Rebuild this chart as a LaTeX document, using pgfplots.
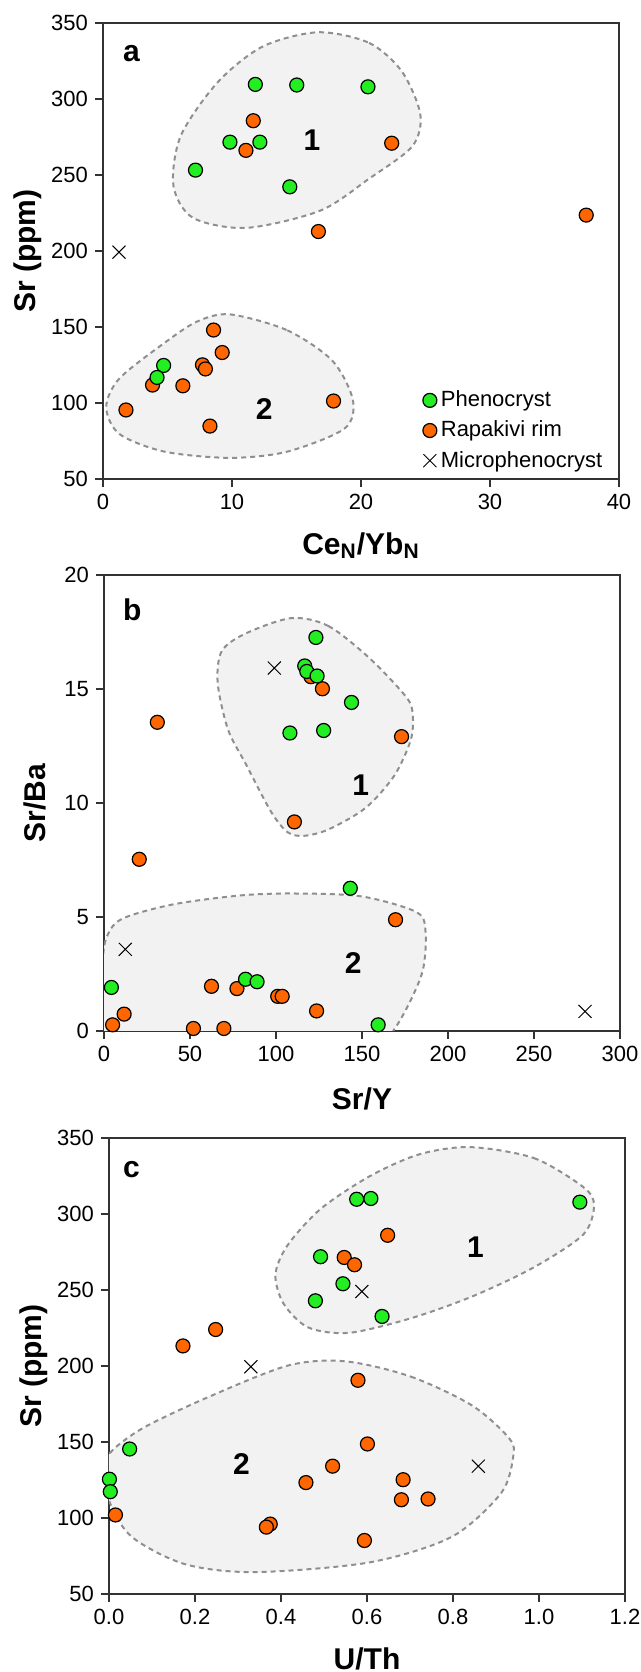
\documentclass[border=0pt]{standalone}
\usepackage{fontspec}
\setmainfont{Liberation Sans}
\usepackage{pgfplots}
\pgfplotsset{compat=1.18}
\definecolor{phenGreen}{HTML}{22EE22}
\definecolor{rimOrange}{HTML}{FF6600}
\definecolor{hullFill}{HTML}{F2F2F2}
\definecolor{hullEdge}{HTML}{8F8F8F}
\definecolor{frameGray}{HTML}{333333}
\pgfplotsset{
  panel/.style={
    scale only axis, width=258pt, height=228pt, anchor=south west,
    axis line style={frameGray, line width=0.9pt},
    tick style={frameGray, line width=0.9pt},
    tick align=outside, xtick pos=left, ytick pos=left,
    major tick length=4pt,
    ticklabel style={font=\fontsize{11}{13}\selectfont},
    /pgf/number format/assume math mode=true,
    label style={font=\fontsize{15}{17}\selectfont\bfseries},
    xlabel style={at={(axis description cs:0.5,-0.1645)}, anchor=base},
    ylabel style={at={(axis description cs:-0.145,0.5)}, anchor=center},
  },
  phen/.style={only marks, mark=*, mark size=3.5pt,
    mark options={fill=phenGreen, draw=black, line width=0.6pt}},
  rim/.style={only marks, mark=*, mark size=3.5pt,
    mark options={fill=rimOrange, draw=black, line width=0.6pt}},
  micro/.style={only marks, mark=x, mark size=4.6pt,
    mark options={draw=black, line width=0.5pt}},
  hull/.style={fill=hullFill, draw=hullEdge, line width=1pt,
    dash pattern=on 2.5pt off 2pt, smooth cycle, mark=none, forget plot},
}
\newcommand{\grp}{\fontsize{15}{17}\selectfont\bfseries}
\begin{document}
\begin{tikzpicture}
\useasboundingbox (0,0) rectangle (320.5pt,836pt);

% ---------- a ----------
\begin{axis}[panel, at={(51.5pt,596.35pt)},
  xmin=0, xmax=40, ymin=50, ymax=350,
  xtick={0,10,...,40}, ytick={50,100,...,350},
  xlabel={Ce\textsubscript{N}/Yb\textsubscript{N}}, ylabel={Sr (ppm)},
  legend cell align=left,
  legend image code/.code={\draw[mark repeat=2,mark phase=2,#1] plot coordinates {(-3.5pt,0pt) (0pt,0pt) (3.5pt,0pt)};},
  legend style={draw=none, fill=none, at={(axis cs:24.3,50.5)}, anchor=south west,
    font=\fontsize{11}{13}\selectfont, row sep=1.6pt},
]
\addplot[hull] coordinates {(16.67,344.1) (20.63,337.1) (23.17,318.3) (24.60,290.1) (23.97,269.0) (20.63,247.8) (16.83,226.7) (11.11,215.4) (6.98,222.0) (5.46,243.1) (6.03,276.0) (8.89,311.2) (12.38,334.7)};
\addplot[hull] coordinates {(9.84,158.5) (14.29,148.0) (17.78,128.0) (19.37,102.2) (18.73,83.4) (14.29,68.2) (9.84,64.1) (4.76,68.2) (1.27,79.8) (0.25,97.5) (1.27,116.3) (4.76,139.7) (7.30,153.8)};
\addplot[rim, forget plot] coordinates {(11.65,285.9) (11.08,266.4) (22.38,271.1) (16.70,213.0) (37.46,223.8) (8.57,148.2) (9.24,133.4) (7.71,125.3) (7.94,122.6) (3.84,112.0) (6.19,111.5) (1.78,95.6) (17.87,101.5) (8.29,85.0)};
\addplot[phen, forget plot] coordinates {(11.81,309.8) (15.02,309.4) (20.54,308.2) (9.84,271.8) (12.16,271.8) (7.17,253.4) (14.48,242.4) (4.70,124.9) (4.19,117.0)};
\addplot[micro, forget plot] coordinates {(1.24,199.4)};
\addlegendimage{phen}\addlegendentry{Phenocryst}
\addlegendimage{rim}\addlegendentry{Rapakivi rim}
\addlegendimage{micro}\addlegendentry{Microphenocryst}
\node[font=\grp] at (axis cs:2.2,330) {a};
\node[font=\grp] at (axis cs:16.2,273) {1};
\node[font=\grp] at (axis cs:12.5,96) {2};
\end{axis}

% ---------- b ----------
\begin{axis}[panel, at={(52pt,320.5pt)},
  xmin=0, xmax=300, ymin=0, ymax=20,
  xtick={0,50,...,300}, ytick={0,5,...,20},
  xlabel={Sr/Y}, ylabel={Sr/Ba},
  xlabel style={at={(axis description cs:0.5,-0.173)}},
  ylabel style={at={(axis description cs:-0.134,0.5)}},
]
\addplot[hull] coordinates {(109.1,18.11) (130.5,17.76) (154.4,16.35) (175.9,14.63) (179.5,13.85) (178.3,12.75) (168.7,11.19) (152.0,9.78) (130.5,8.84) (116.2,8.56) (106.7,8.72) (97.1,9.62) (82.8,11.66) (72.1,13.22) (66.1,15.26) (68.5,16.67) (82.8,17.45)};
\addplot[hull] coordinates {(-1,0.8) (-1,2.6) (1,4.0) (10,4.9) (40,5.55) (80,5.95) (112,6.03) (150,5.9) (182,5.2) (187,4.3) (185.5,2.7) (178,1.3) (168.5,0.05) (160,-0.4) (100,-0.4) (20,-0.4) (0,-0.3)};
\addplot[rim, forget plot] coordinates {(120.3,15.54) (127.0,15.01) (173.0,12.91) (110.7,9.17) (31.0,13.54) (20.5,7.53) (169.5,4.88) (62.5,1.96) (77.3,1.86) (101.0,1.52) (103.6,1.52) (123.6,0.88) (11.7,0.74) (5.0,0.27) (52.0,0.11) (69.7,0.11)};
\addplot[phen, forget plot] coordinates {(123.2,17.26) (116.7,16.01) (117.9,15.77) (123.9,15.57) (143.9,14.41) (108.1,13.07) (127.7,13.18) (143.2,6.26) (82.3,2.27) (89.0,2.16) (4.3,1.91) (159.4,0.27)};
\addplot[micro, forget plot] coordinates {(99.0,15.92) (12.4,3.58) (279.7,0.86)};
\node[font=\grp] at (axis cs:16.5,18.47) {b};
\node[font=\grp] at (axis cs:149.2,10.8) {1};
\node[font=\grp] at (axis cs:144.9,3.0) {2};
\end{axis}

% ---------- c ----------
\begin{axis}[panel, at={(54.5pt,39pt)},
  xmin=0, xmax=1.2, ymin=50, ymax=350,
  xtick={0,0.2,0.4,0.6,0.8,1.0,1.2}, ytick={50,100,...,350},
  xticklabel style={/pgf/number format/.cd, fixed, fixed zerofill, precision=1},
  xlabel={U/Th}, ylabel={Sr (ppm)},
]
\addplot[hull] coordinates {(0.840,344.0) (0.988,336.8) (1.103,317.7) (1.128,305.7) (1.103,286.5) (0.988,264.9) (0.845,245.8) (0.702,231.4) (0.558,221.8) (0.463,225.4) (0.406,241.0) (0.387,260.1) (0.415,279.3) (0.492,303.3) (0.606,324.8) (0.721,339.2)};
\addplot[hull] coordinates {(0.549,203.1) (0.702,193.0) (0.845,173.9) (0.931,152.3) (0.940,140.3) (0.912,116.4) (0.797,87.6) (0.606,70.8) (0.339,64.4) (0.177,69.6) (0.053,87.6) (0.0,111.6) (-0.007,135.5) (0.010,145.1) (0.081,159.5) (0.224,178.7) (0.415,200.2)};
\addplot[rim, forget plot] coordinates {(0.648,286.0) (0.547,271.4) (0.571,266.6) (0.248,224.0) (0.172,213.2) (0.579,190.6) (0.601,148.7) (0.520,134.1) (0.458,123.3) (0.684,125.2) (0.680,112.0) (0.742,112.5) (0.015,102.0) (0.375,96.0) (0.366,94.0) (0.594,85.2)};
\addplot[phen, forget plot] coordinates {(0.576,309.7) (0.609,310.2) (1.095,307.8) (0.492,271.9) (0.544,254.1) (0.480,242.9) (0.635,232.6) (0.048,145.4) (0.001,125.5) (0.003,117.3)};
\addplot[micro, forget plot] coordinates {(0.330,199.5) (0.588,249.0) (0.859,134.1)};
\node[font=\grp] at (axis cs:0.052,329) {c};
\node[font=\grp] at (axis cs:0.852,278) {1};
\node[font=\grp] at (axis cs:0.308,135.5) {2};
\end{axis}
\end{tikzpicture}
\end{document}
